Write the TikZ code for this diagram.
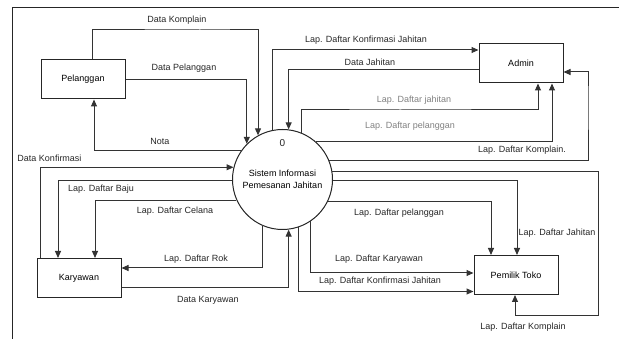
\documentclass[tikz,border=0pt]{standalone}
\usepackage{fontspec}
\setmainfont{Liberation Sans}
\usetikzlibrary{positioning}
\usetikzlibrary{arrows.meta}
\usetikzlibrary{calc}

\begin{document}
\begin{tikzpicture}[x=1pt, y=-1pt,
	entitas/.style={draw=black!85, fill=white, line width=1pt, minimum width=84pt, minimum height=39pt, font=\fontsize{9}{10}\selectfont},
	proses/.style={draw=black!85, fill=white, circle, line width=1pt, minimum size=100pt, inner sep=0pt, align=center, font=\fontsize{9}{12}\selectfont},
	alur/.style={draw=black!80, line width=1pt, -{Triangle[length=7pt, width=6pt]}},
	ket/.style={text=black!85, font=\fontsize{9}{10}\selectfont, inner sep=1pt},
	ketabu/.style={ket, text=black!50}]
	\useasboundingbox (0,0) rectangle (619,339);
	
	% bingkai gambar
	\draw[black!85, line width=1pt] (619,8) -- (12,8) -- (12,339);
	
	% entitas luar dan proses
	\node[entitas] (pel) at (83,79.5) {Pelanggan};
	\node[entitas] (adm) at (521,63.5) {Admin};
	\node[entitas] (kar) at (79,278) {Karyawan};
	\node[entitas] (pem) at (516,275) {Pemilik Toko};
	\node[proses] (sis) at (282.5,179.5) {Sistem Informasi\\Pemesanan Jahitan};
	\node[font=\fontsize{10}{12}\selectfont, text=black!85] (nol) at (282.5,143) {0};
	
	% Pelanggan
	\draw[alur] (pel.north -| 92,0) |- (200,30) -| (sis.119.3);
	\draw[alur] (pel.east) -| (sis.135.2);
	\draw[alur] (sis.145.25) -| (pel.south -| 94,0);
	\node[ket] (lKomplain) at (177,20) {Data Komplain};
	\node[ket] (lPelanggan) at (184,68) {Data Pelanggan};
	\node[ket] (lNota) at (160,141) {Nota};
	
	% Karyawan
	\draw[alur] (kar.north -| 40,0) |- (sis.166.7);
	\draw[alur] (sis.181.7) -| (kar.north -| 58,0);
	\draw[alur] (sis.204.2) -| (kar.north -| 95,0);
	\draw[alur] (sis.247) |- (kar.east |- 0,268);
	\draw[alur] (kar.east |- 0,288) -| (sis.277.5);
	\node[ket] (lKonfirmasi) at (49.5,158) {Data Konfirmasi};
	\node[ket] (lBaju) at (101,189) {Lap. Daftar Baju};
	\node[ket] (lCelana) at (175,211) {Lap. Daftar Celana};
	\node[ket] (lRok) at (196,259) {Lap. Daftar Rok};
	\node[ket] (lKaryawan) at (208,300) {Data Karyawan};
	
	% Admin
	\draw[alur] (sis.102.1) |- (adm.west |- 0,50);
	\draw[alur] (adm.west |- 0,69.3) -| (sis.83.7);
	\draw[alur] (sis.68.3) |- (400,110) -| (adm.south -| 538,0);
	\draw[alur] (sis.48.6) -| (adm.south -| 552,0);
	\draw[alur] (sis.22.95) -| (588,100) |- (adm.east |- 0,72);
	\node[ket] (lKonfAdm) at (366,40) {Lap. Daftar Konfirmasi Jahitan};
	\node[ket] (lJahitan) at (370,62) {Data Jahitan};
	\node[ketabu] (lJhtAdm) at (414,100) {Lap. Daftar jahitan};
	\node[ketabu] (lPlgAdm) at (410,126) {Lap. Daftar pelanggan};
	\node[ket] (lKmpAdm) at (522,150) {Lap. Daftar Komplain.};
	
	% Pemilik Toko
	\draw[alur] (sis.9.8) -| (598,316) -| (pem.south -| 515,0);
	\draw[alur] (sis.-1.7) -| (pem.north -| 517,0);
	\draw[alur] (sis.-26.4) -| (pem.north -| 491,0);
	\draw[alur] (sis.-56.6) |- (pem.west |- 0,273);
	\draw[alur] (sis.-71.9) |- (pem.west |- 0,291.5);
	\node[ket] (lPlgPem) at (399,213) {Lap. Daftar pelanggan};
	\node[ket] (lJhtPem) at (557,233) {Lap. Daftar Jahitan};
	\node[ket] (lKarPem) at (379,259) {Lap. Daftar Karyawan};
	\node[ket] (lKonfPem) at (380,281) {Lap. Daftar Konfirmasi Jahitan};
	\node[ket] (lKmpPem) at (523,327) {Lap. Daftar Komplain};
\end{tikzpicture}
\end{document}
